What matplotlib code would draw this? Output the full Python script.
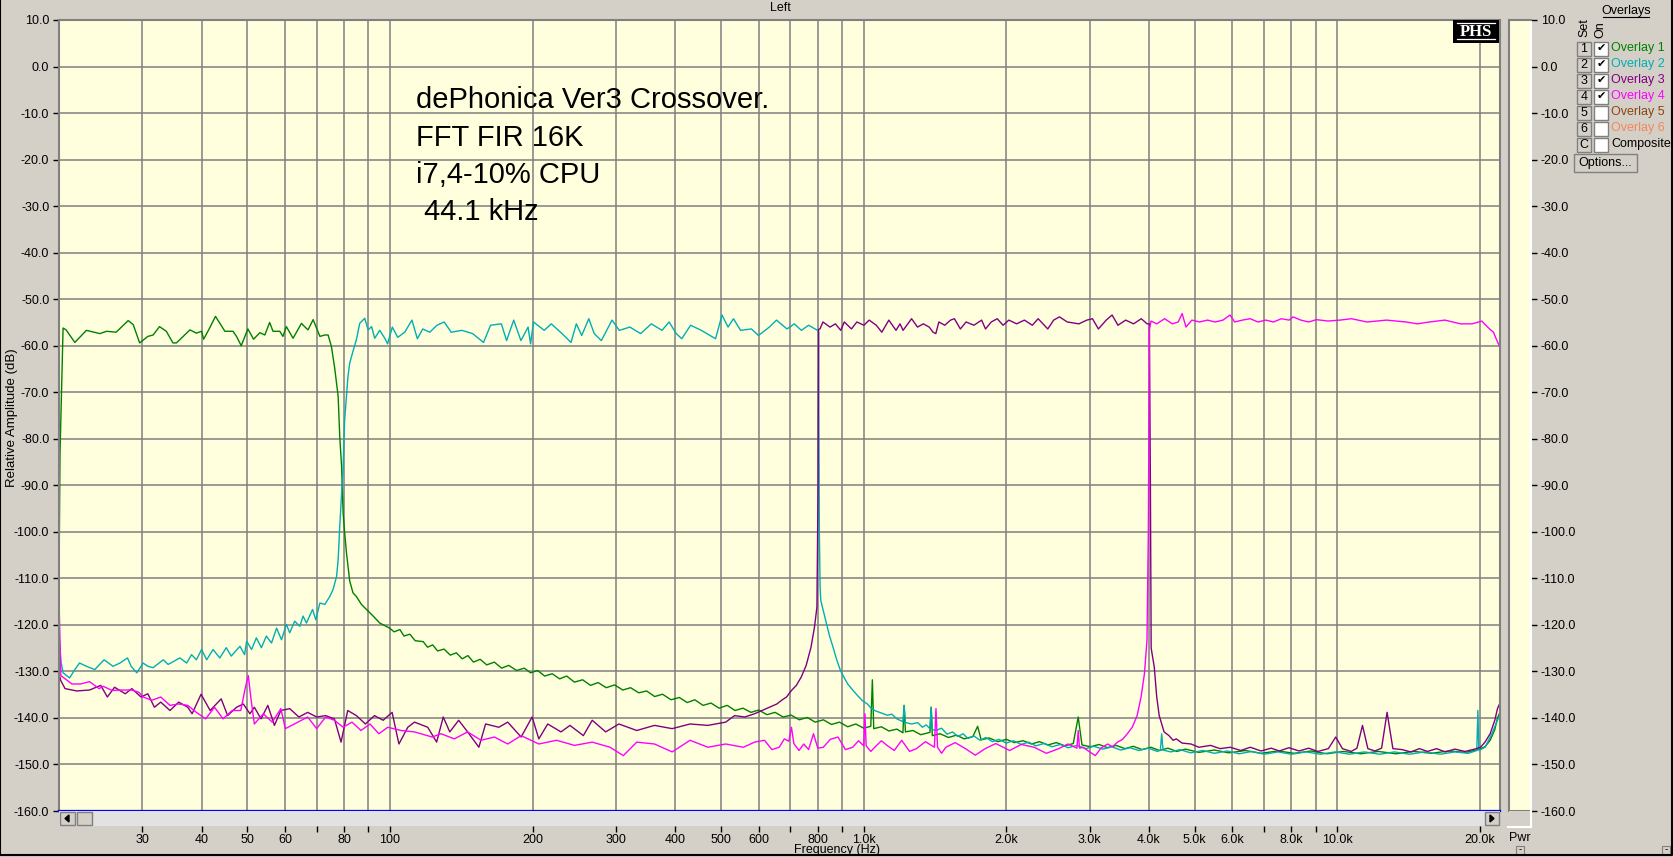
import numpy as np
import matplotlib
matplotlib.use('Agg')
import matplotlib.pyplot as plt
from matplotlib.patches import Rectangle, Polygon
from matplotlib.lines import Line2D
from matplotlib.transforms import Affine2D
from matplotlib.ticker import NullLocator

plt.rcParams.update({
    'font.family': ['Liberation Sans', 'DejaVu Sans'],
    'font.size': 9,
    'axes.linewidth': 1.5,
})

# ---- data (Hz, dB) ----
ov1_freq = [20.0, 20.1, 20.4, 20.7, 21.6, 22.85, 24.4, 25.2, 26.4, 28.0, 28.7, 29.6, 30.8, 31.6,
            32.6, 33.7, 34.8, 35.4, 37.8, 39.0, 40.0, 40.4, 41.6, 42.8, 44.8, 46.6, 47.4, 48.5,
            50.1, 51.5, 53.1, 54.4, 55.7, 56.6, 58.5, 59.4, 60.4, 62.4, 65.0, 66.0, 67.1, 68.8,
            71.1, 72.8, 74.0, 75.2, 76.4, 77.7, 78.3, 79.0, 79.6, 80.2, 80.9, 82.2, 83.5, 84.9,
            87.0, 89.2, 92.1, 95.1, 99.8, 102, 104.9, 107, 110.1, 113, 117.5, 120, 123, 126, 130,
            134, 138, 142, 146, 150, 155, 160, 166, 172, 178, 185, 192, 198, 205, 212, 220, 228,
            236, 245, 255, 265, 275, 286, 298, 310, 322, 335, 348, 362, 376, 392, 408, 424, 440,
            458, 476, 495, 515, 535, 556, 578, 600, 625, 650, 676, 703, 731, 760, 790, 822, 855,
            889, 925, 962, 1000, 1035, 1043, 1050, 1090, 1130, 1175, 1210, 1217, 1225, 1270,
            1320, 1380, 1388, 1396, 1450, 1510, 1570, 1630, 1700, 1740, 1770, 1840, 1920, 2000,
            2080, 2170, 2260, 2350, 2450, 2550, 2660, 2770, 2837, 2890, 3010, 3140, 3270, 3410,
            3560, 3710, 3870, 4040, 4210, 4390, 4580, 4780, 5100, 5500, 5900, 6400, 6900, 7500,
            8100, 8800, 9500, 10300, 11200, 12200, 13300, 14500, 15800, 17200, 18700, 19800,
            20500, 21020, 21500, 21780, 22000]
ov1_db = [-110.0, -83.0, -56.2, -56.6, -59.3, -56.7, -57.4, -56.9, -57.1, -54.6, -55.5, -59.4,
          -58.0, -57.7, -55.9, -56.9, -59.4, -59.4, -56.6, -57.3, -56.9, -58.6, -56.2, -53.7,
          -56.9, -56.9, -58.0, -60.0, -56.4, -58.6, -57.2, -57.7, -55.0, -56.9, -56.9, -58.0,
          -55.9, -58.4, -55.2, -55.9, -56.6, -54.4, -58.0, -57.7, -57.7, -60.2, -64.8, -70.9,
          -79.5, -85.9, -96.0, -100.3, -104.5, -110.6, -113.1, -113.9, -115.6, -116.7, -118.1,
          -119.6, -120.7, -121.5, -121.0, -122.4, -122.0, -123.4, -123.6, -124.8, -124.3,
          -125.6, -125.2, -126.5, -126.0, -127.3, -126.6, -128.0, -127.4, -128.6, -128.0,
          -129.3, -128.7, -129.8, -129.3, -130.3, -129.8, -131.0, -130.5, -131.6, -131.0,
          -132.3, -131.8, -133.0, -132.4, -133.5, -132.9, -134.0, -133.5, -134.6, -134.2,
          -135.4, -134.9, -136.1, -135.6, -136.7, -136.1, -137.3, -136.8, -137.9, -137.3,
          -138.4, -137.9, -138.8, -138.3, -139.3, -138.8, -139.8, -139.4, -140.4, -139.9,
          -140.9, -140.4, -141.4, -140.9, -141.9, -141.3, -142.2, -141.8, -131.8, -142.3,
          -141.9, -142.8, -142.4, -143.2, -137.3, -143.0, -142.7, -143.6, -143.1, -137.7,
          -143.8, -143.4, -144.2, -143.7, -144.5, -144.0, -141.8, -144.7, -144.3, -145.1,
          -144.6, -145.3, -144.9, -145.6, -145.1, -145.8, -145.3, -146.0, -145.5, -139.8,
          -145.8, -146.2, -145.7, -146.4, -145.9, -146.6, -146.1, -146.8, -146.3, -147.0,
          -146.5, -147.2, -146.7, -147.4, -146.9, -147.5, -147.0, -147.6, -147.1, -147.6,
          -147.1, -147.7, -147.2, -147.7, -147.2, -147.7, -147.2, -147.6, -147.1, -147.4,
          -146.8, -146.2, -144.8, -142.5, -140.0, -139.0]

ov2_freq = [20.0, 20.2, 20.4, 21.06, 21.6, 22.1, 22.85, 23.8, 24.9, 26.0, 26.9, 27.9, 28.4, 29.2,
            30.1, 30.8, 31.6, 33.2, 34.0, 36.0, 37.2, 38.1, 39.0, 40.0, 41.0, 42.3, 43.7, 45.1,
            46.2, 48.2, 49.3, 49.8, 51.0, 52.2, 53.5, 54.8, 56.2, 57.6, 59.0, 60.4, 61.4, 62.9,
            64.5, 65.5, 66.6, 68.6, 69.7, 71.1, 72.8, 74.6, 75.8, 77.1, 77.7, 78.3, 79.0, 79.6,
            80.2, 80.9, 81.5, 82.2, 83.5, 84.9, 86.3, 88.4, 89.9, 91.4, 92.8, 95.1, 97.6, 98.8,
            101.1, 103.8, 107.4, 111.2, 114.2, 117.2, 121.3, 125.6, 130.1, 134.6, 141.8, 149.4,
            157.5, 163.0, 171.8, 176.2, 182.4, 188.9, 195.6, 198.0, 200.8, 211.6, 219.0, 230.7,
            241.0, 247.3, 253.9, 262.8, 269.8, 279.3, 294.2, 304.7, 320.9, 338.1, 356.1, 375.1,
            388.3, 402, 412.9, 431.1, 454.1, 486.6, 502.2, 517.1, 530.9, 549.6, 579.1, 599.6,
            632.0, 654.3, 688.9, 713.6, 738.7, 765.0, 798.9, 803, 806, 809, 811.9, 831.5, 846,
            861.5, 877, 893, 909, 925.2, 948, 970.7, 994, 1018, 1036, 1055, 1087, 1120, 1147,
            1175, 1210, 1217, 1225, 1262, 1300, 1330, 1355, 1380, 1388, 1396, 1421, 1460, 1500,
            1540, 1580, 1620, 1660, 1710, 1760, 1810, 1870, 1930, 2000, 2070, 2150, 2230, 2310,
            2400, 2500, 2600, 2700, 2820, 2940, 3060, 3200, 3340, 3490, 3650, 3810, 3990, 4170,
            4230, 4257, 4285, 4450, 4650, 4900, 5200, 5500, 5850, 6200, 6600, 7000, 7500, 8000,
            8600, 9200, 9900, 10600, 11400, 12300, 13200, 14200, 15300, 16500, 17700, 18900,
            19700, 19800, 19900, 20500, 21200, 21780, 22000]
ov2_db = [-122.0, -128.0, -130.3, -131.4, -129.6, -128.2, -128.9, -129.6, -127.5, -128.9, -128.2,
          -127.1, -128.9, -130.3, -128.2, -128.9, -129.2, -127.5, -128.5, -127.1, -128.2, -126.4,
          -127.5, -125.3, -127.5, -125.3, -127.1, -124.9, -126.7, -124.6, -126.4, -123.5, -125.3,
          -122.8, -124.9, -122.4, -123.9, -120.7, -123.2, -119.9, -121.7, -119.2, -120.3, -118.1,
          -119.6, -116.7, -118.9, -115.3, -115.6, -113.9, -112.4, -109.6, -106.0, -98.8, -91.7,
          -85.9, -75.9, -70.9, -66.6, -63.7, -61.2, -58.7, -55.2, -54.1, -56.6, -55.9, -58.4,
          -56.7, -58.5, -59.6, -56.0, -58.2, -57.1, -54.5, -58.5, -56.4, -57.1, -55.6, -54.9,
          -57.1, -56.7, -57.4, -59.3, -55.6, -55.3, -58.9, -54.5, -58.9, -56.0, -59.6, -54.9,
          -56.7, -55.3, -57.4, -59.3, -55.3, -57.8, -54.2, -57.4, -58.9, -54.5, -56.7, -56.0,
          -57.4, -55.3, -56.7, -54.9, -57.4, -58.5, -55.6, -56.7, -58.5, -53.4, -56.0, -54.2,
          -56.7, -56.4, -57.8, -56.0, -54.5, -56.4, -55.3, -56.7, -55.6, -56.7, -57.0, -100.0,
          -112.0, -114.8, -119.1, -122.2, -124.8, -127.5, -129.8, -131.3, -132.7, -134.0,
          -135.2, -136.3, -137.0, -137.9, -138.4, -138.9, -139.4, -139.2, -140.2, -140.8,
          -137.3, -141.0, -141.3, -141.0, -142.0, -141.5, -142.3, -137.7, -142.5, -142.7,
          -142.2, -143.5, -143.0, -144.0, -143.4, -144.4, -143.9, -144.8, -144.2, -145.1,
          -144.6, -145.4, -144.9, -145.7, -145.2, -146.0, -145.5, -146.2, -145.7, -146.4,
          -145.9, -146.6, -146.1, -146.7, -146.2, -146.9, -146.4, -147.0, -146.5, -147.2,
          -146.9, -143.4, -146.9, -147.3, -146.8, -147.5, -147.0, -147.6, -147.1, -147.7,
          -147.2, -147.8, -147.3, -147.8, -147.3, -147.8, -147.3, -147.8, -147.3, -147.8,
          -147.3, -147.8, -147.3, -147.8, -147.3, -147.6, -147.0, -138.4, -147.0, -146.3,
          -143.4, -140.5, -139.5]

ov3_freq = [20.0, 20.18, 20.6, 21.8, 23.2, 24.5, 25.3, 26.2, 27.6, 28.5, 29.8, 30.8, 31.8, 32.8,
            34.3, 35.8, 37.4, 38.2, 39.9, 41.7, 44.0, 45.4, 47.4, 49.0, 50.6, 51.7, 53.4, 55.2,
            57.0, 58.8, 61.4, 64.2, 67.0, 70.0, 73.1, 76.3, 78.8, 81.4, 84.9, 88.7, 92.7, 96.7,
            101.0, 104.4, 109.0, 112.6, 120.1, 125.4, 129.5, 133.7, 139.6, 145.8, 154.0, 159.1,
            169.7, 177.2, 189.1, 199.5, 206.1, 215.2, 229.6, 239.8, 255.9, 267.2, 285.2, 304.2,
            331.8, 361.6, 394.1, 429.9, 468.8, 511.2, 533.8, 561, 588.2, 610, 632, 655.6, 671,
            687.2, 703.8, 720.8, 738.2, 756, 774, 787.1, 796.6, 801, 803, 808.5, 820.1, 848.9,
            871.4, 894.4, 910, 942.3, 967.2, 1001, 1027, 1063, 1092, 1130, 1170, 1193, 1211, 1239,
            1262, 1299, 1336, 1375, 1401, 1420, 1441, 1483, 1525, 1554, 1600, 1645, 1709, 1774,
            1808, 1859, 1914, 1969, 2025, 2103, 2184, 2270, 2335, 2447, 2518, 2590, 2690, 2847,
            2958, 3041, 3130, 3251, 3345, 3442, 3574, 3713, 3855, 3967, 4010, 4030, 4045, 4107,
            4156, 4206, 4307, 4411, 4500, 4571, 4700, 4910, 5100, 5401, 5650, 5943, 6250, 6550,
            6900, 7250, 7544, 7900, 8300, 8700, 9100, 9572, 9923, 10250, 10700, 11000, 11300,
            11600, 12000, 12400, 12735, 13100, 13680, 14300, 14900, 15500, 16200, 16900, 17700,
            18600, 19500, 20050, 20500, 21020, 21500, 21780, 22000]
ov3_db = [-130.5, -132.0, -133.7, -134.2, -134.0, -133.0, -135.5, -133.4, -134.8, -133.7, -135.5,
          -134.8, -137.7, -136.6, -138.4, -136.6, -137.7, -139.1, -134.9, -138.4, -135.9, -139.5,
          -137.7, -137.0, -139.1, -137.7, -140.2, -137.3, -141.6, -138.4, -138.0, -139.8, -138.8,
          -139.8, -139.5, -140.2, -145.2, -138.4, -139.5, -141.3, -139.5, -140.5, -138.8, -145.6,
          -142.0, -140.9, -142.0, -145.2, -139.8, -143.0, -140.5, -143.0, -146.3, -141.3, -142.0,
          -140.9, -144.1, -139.8, -144.5, -141.3, -143.0, -141.6, -143.8, -140.5, -143.0, -141.3,
          -142.7, -141.6, -142.3, -141.3, -141.6, -140.9, -139.5, -139.8, -139.1, -138.4, -137.7,
          -137.0, -136.2, -135.5, -134.1, -133.0, -131.2, -128.7, -124.8, -120.5, -116.2, -90.0,
          -56.5, -56.4, -54.9, -56.0, -55.3, -56.7, -54.9, -56.4, -54.9, -55.6, -54.5, -55.6,
          -57.1, -54.5, -56.7, -55.3, -56.7, -55.3, -54.2, -56.0, -55.3, -56.0, -57.1, -57.4,
          -54.9, -55.6, -54.5, -54.2, -56.4, -54.9, -55.6, -54.5, -56.4, -54.9, -54.2, -55.6,
          -54.5, -55.3, -54.5, -55.6, -54.2, -56.4, -54.5, -53.8, -54.9, -55.3, -54.5, -54.2,
          -56.4, -54.5, -53.4, -55.6, -54.5, -55.3, -54.2, -55.3, -55.3, -90.0, -125.0, -129.1,
          -135.5, -139.5, -143.0, -143.8, -144.8, -144.5, -145.4, -145.6, -146.3, -145.9,
          -146.6, -146.3, -147.0, -146.3, -147.1, -146.5, -147.1, -146.4, -147.1, -146.5,
          -147.2, -146.6, -144.1, -146.6, -147.2, -146.5, -141.6, -146.6, -147.1, -146.5,
          -138.8, -146.6, -146.8, -147.3, -146.6, -147.2, -146.6, -147.3, -146.7, -147.2,
          -146.7, -146.3, -145.2, -143.4, -140.5, -138.0, -137.0]

ov4_freq = [20.0, 20.1, 20.18, 21.3, 22.2, 23.2, 24.3, 24.8, 25.9, 27.0, 28.5, 29.5, 30.1, 31.4,
            32.8, 34.3, 35.8, 37.4, 39.0, 40.8, 42.6, 44.4, 46.4, 48.4, 49.5, 50.2, 50.9, 51.7,
            54.0, 56.4, 58.8, 60.1, 62.8, 67.0, 70.0, 73.1, 76.3, 79.6, 83.1, 86.8, 90.7, 94.7,
            98.9, 105.5, 112.6, 122.7, 128.1, 136.7, 145.8, 155.6, 166.1, 177.2, 189.1, 206.1,
            224.7, 245.1, 267.2, 291.4, 310.8, 331.8, 361.6, 394.1, 429.9, 468.8, 511.2, 557.2,
            588.2, 617.3, 640, 663, 680, 695, 703.8, 712, 730, 747, 765, 783.4, 800, 821.5, 850,
            882.5, 915, 948, 975, 1000, 1006, 1012, 1035, 1055, 1090, 1120, 1160, 1203, 1250,
            1292, 1350, 1410, 1421, 1432, 1460, 1491, 1560, 1640, 1720, 1805, 1900, 2033, 2150,
            2290, 2430, 2580, 2700, 2820, 2837, 2855, 2906, 3000, 3083, 3170, 3274, 3350, 3434,
            3520, 3602, 3690, 3778, 3851, 3915, 3963, 3990, 4010, 4042, 4157, 4318, 4484, 4613,
            4702, 4792, 4929, 5118, 5317, 5521, 5735, 5934, 6069, 6302, 6546, 6799, 7061, 7333,
            7617, 7910, 8060, 8375, 8700, 9030, 9560, 10120, 10710, 11550, 12700, 13960, 14770,
            15640, 16870, 18200, 19250, 20190, 20570, 20960, 21360, 21640, 21970]
ov4_db = [-114.6, -124.0, -130.9, -132.7, -132.7, -132.2, -133.7, -133.2, -134.1, -134.0, -134.0,
          -134.5, -135.5, -136.2, -135.5, -137.3, -137.0, -137.3, -138.8, -140.2, -137.7, -140.2,
          -138.4, -138.4, -133.4, -130.9, -136.2, -141.3, -139.1, -140.9, -138.0, -142.3, -141.3,
          -139.8, -142.3, -139.8, -140.5, -142.0, -140.9, -142.7, -141.3, -143.4, -142.0, -142.7,
          -143.0, -144.1, -143.4, -144.5, -143.0, -144.8, -144.1, -145.6, -143.8, -145.6, -144.8,
          -145.9, -145.2, -146.3, -148.1, -145.2, -145.6, -147.3, -144.8, -146.3, -145.6, -146.3,
          -145.2, -144.8, -146.8, -146.3, -144.5, -145.0, -142.0, -145.5, -147.0, -145.6, -146.8,
          -143.4, -146.5, -146.3, -144.6, -144.1, -146.8, -146.3, -144.9, -146.0, -139.1, -146.0,
          -147.2, -146.3, -144.9, -145.9, -147.0, -144.8, -147.2, -146.6, -145.1, -146.3, -138.0,
          -146.3, -147.6, -146.3, -145.3, -146.6, -148.0, -146.6, -145.5, -147.0, -145.7, -146.3,
          -147.6, -146.6, -145.6, -146.5, -142.7, -146.5, -146.3, -147.3, -148.1, -146.5, -145.6,
          -146.2, -145.2, -144.6, -143.4, -142.0, -139.5, -135.5, -130.5, -123.4, -100.0, -56.5,
          -54.7, -55.3, -54.2, -55.3, -54.9, -53.1, -56.0, -54.5, -54.9, -54.5, -54.9, -54.5,
          -53.4, -54.9, -54.5, -54.2, -54.9, -54.5, -54.9, -54.2, -54.5, -53.8, -54.5, -54.9,
          -54.4, -54.7, -54.5, -54.2, -54.9, -54.5, -54.9, -55.3, -54.9, -54.5, -55.3, -55.3,
          -54.7, -55.6, -56.4, -57.1, -58.5, -60.0]

grid_freqs = [30, 40, 50, 60, 70, 80, 90, 100, 200, 300, 400, 500, 600, 700, 800, 900,
              1000, 2000, 3000, 4000, 5000, 6000, 7000, 8000, 9000, 10000, 20000]
grid_labels = ['30', '40', '50', '60', '', '80', '', '100', '200', '300', '400', '500', '600',
               '', '800', '', '1.0k', '2.0k', '3.0k', '4.0k', '5.0k', '6.0k', '', '8.0k', '',
               '10.0k', '20.0k']
db_ticks = list(range(-160, 11, 10))

overlay_names = ['Overlay 1', 'Overlay 2', 'Overlay 3', 'Overlay 4', 'Overlay 5', 'Overlay 6',
                 'Composite']
overlay_keys = ['1', '2', '3', '4', '5', '6', 'C']
overlay_on = [True, True, True, True, False, False, False]
overlay_colors = ['#008000', '#00AEB4', '#800080', '#FF00FF', '#8B4513', '#F4875A', '#000000']

note_lines = ['dePhonica Ver3 Crossover.', 'FFT FIR 16K', 'i7,4-10% CPU', ' 44.1 kHz']

# ---- layout (pixels of the original window) ----
W, H = 1674, 857
BG = '#D4D0C8'
PLOT_BG = '#FFFFDE'
GRID = '#808080'

fig = plt.figure(figsize=(W / 100, H / 100), dpi=100, facecolor=BG)
pix = Affine2D().scale(1 / W, -1 / H).translate(0, 1) + fig.transFigure


def box(l, t, r, b):
    return [l / W, 1 - b / H, (r - l) / W, (b - t) / H]


def rect(l, t, r, b, fc, ec='none', lw=1.0, z=3):
    fig.add_artist(Rectangle((l, t), r - l, b - t, facecolor=fc, edgecolor=ec,
                             linewidth=lw, transform=pix, zorder=z))


def ftext(x, y, s, **kw):
    kw.setdefault('zorder', 12)
    fig.text(x, y, s, transform=pix, **kw)


# main plot
ax = fig.add_axes(box(59, 20, 1500, 811))
ax.set_facecolor(PLOT_BG)
ax.set_xscale('log')
ax.set_xlim(20, 22050)
ax.set_ylim(-160, 10)
ax.set_xticks(grid_freqs, grid_labels)
ax.xaxis.set_minor_locator(NullLocator())
ax.set_yticks(db_ticks, ['%.1f' % v for v in db_ticks])
ax.tick_params(axis='x', length=0, labelbottom=False)
ax.tick_params(axis='y', direction='out', length=4, width=1, pad=3, labelsize=9)
ax.grid(True, color=GRID, linewidth=1.1)
for s in ax.spines.values():
    s.set_color(GRID)

ax.plot(ov1_freq, ov1_db, color=overlay_colors[0], lw=1.0)
ax.plot(ov2_freq, ov2_db, color=overlay_colors[1], lw=1.0)
ax.plot(ov3_freq, ov3_db, color=overlay_colors[2], lw=1.0)
ax.plot(ov4_freq, ov4_db, color=overlay_colors[3], lw=1.0)
ax.axhline(-160, color='#0000FF', lw=1.6, clip_on=False, zorder=6)

for i, line in enumerate(note_lines):
    ftext(416, 108 + 37.5 * i, line, fontsize=21, va='baseline', ha='left', color='black')

# scroll bar under the plot, carries the frequency labels
ax_sc = fig.add_axes(box(59, 811, 1500, 826), sharex=ax)
ax_sc.set_facecolor('#E2E2E2')
ax_sc.set_yticks([])
ax_sc.tick_params(axis='x', direction='out', length=4, width=1, pad=2, labelsize=9)
for s in ax_sc.spines.values():
    s.set_visible(False)
rect(60, 812, 75, 825, BG, '#808080', 1.0, 7)
rect(77, 812, 92, 825, BG, '#808080', 1.0, 7)
rect(1485, 812, 1499, 825, BG, '#808080', 1.0, 7)
fig.add_artist(Polygon([[65, 818.5], [69, 815], [69, 822]], closed=True, color='black',
                       transform=pix, zorder=8))
fig.add_artist(Polygon([[1494, 818.5], [1490, 815], [1490, 822]], closed=True, color='black',
                       transform=pix, zorder=8))

# power bar on the right
ax_p = fig.add_axes(box(1509, 20, 1531, 811))
ax_p.set_facecolor(PLOT_BG)
ax_p.set_xlim(0, 1)
ax_p.set_ylim(-160, 10)
ax_p.set_xticks([])
ax_p.yaxis.tick_right()
ax_p.set_yticks(db_ticks, ['%.1f' % v for v in db_ticks])
ax_p.tick_params(axis='y', direction='out', length=4, width=1, pad=3, labelsize=9)
ax_p.axhline(-160, 0.12, 0.88, color='#0000FF', lw=1.2)
for s in ax_p.spines.values():
    s.set_color(GRID)
ax_p.spines['right'].set_color('white')
rect(1509, 811, 1531, 826, BG, 'none')
fig.add_artist(Line2D([1531, 1531], [811, 827], color='white', lw=1.5, transform=pix, zorder=4))
fig.add_artist(Line2D([1508, 1531], [827, 827], color='white', lw=1.5, transform=pix, zorder=4))
ftext(1520, 838, 'Pwr', fontsize=9, ha='center', va='center')
for bx in (1516, 1662):
    rect(bx, 846, bx + 8, 854, BG, '#808080', 0.8, 7)
    ftext(bx + 4, 849.5, '-', fontsize=7, ha='center', va='center')

# titles
ftext(780, 8, 'Left', fontsize=9, ha='center', va='center')
ftext(837, 850, 'Frequency (Hz)', fontsize=9, ha='center', va='center')
ftext(12, 418, 'Relative Amplitude (dB)', fontsize=9.5, ha='center', va='center', rotation=90)

# PHS logo
rect(1453, 20, 1499, 43, 'black')
ftext(1476, 31.5, 'PHS', fontsize=12, fontweight='bold', family='Liberation Serif',
      color='white', ha='center', va='center')
for yy in (23.5, 39.5):
    fig.add_artist(Line2D([1457, 1495], [yy, yy], color='white', lw=0.9, transform=pix, zorder=5))

# overlays panel
ftext(1626, 11, 'Overlays', fontsize=9, ha='center', va='center')
fig.add_artist(Line2D([1603, 1649], [17.5, 17.5], color='black', lw=0.8, transform=pix))
ftext(1584, 28, 'Set', fontsize=9, ha='center', va='center', rotation=90)
ftext(1600, 30, 'On', fontsize=9, ha='center', va='center', rotation=90)
for i, name in enumerate(overlay_names):
    yc = 48.5 + 16 * i
    rect(1577, yc - 7, 1591, yc + 7, BG, '#808080', 1.0, 5)
    ftext(1584, yc, overlay_keys[i], fontsize=9, ha='center', va='center')
    rect(1594, yc - 7, 1608, yc + 7, 'white', '#808080', 1.0, 5)
    if overlay_on[i]:
        ftext(1601, yc, '\u2714', fontsize=8, family='DejaVu Sans', ha='center', va='center')
    ftext(1611, yc, name, fontsize=9, color=overlay_colors[i], ha='left', va='center')
rect(1574, 154, 1637, 172, BG, '#808080', 1.0, 5)
ftext(1605.5, 163, 'Options...', fontsize=9, ha='center', va='center')

# window frame
fig.add_artist(Line2D([0.5, 0.5, W - 1.5, W - 1.5], [0, H - 1.5, H - 1.5, 0], color='black',
                      lw=1.5, transform=pix, zorder=10))

plt.savefig('out.png', dpi=100, facecolor=BG)
